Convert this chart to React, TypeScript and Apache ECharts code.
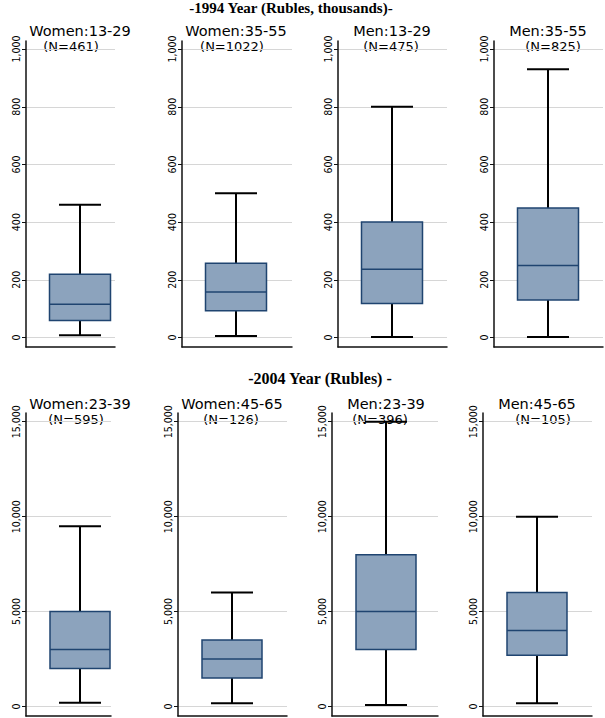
import React, { useEffect, useRef } from 'react';
import * as echarts from 'echarts';

// ---- data ----
const HEADINGS = ['-1994 Year (Rubles, thousands)-', '-2004 Year (Rubles) -'];

const TOP_GROUPS = ['Women:13-29', 'Women:35-55', 'Men:13-29', 'Men:35-55'];
const TOP_N = [461, 1022, 475, 825];
const TOP_LOW = [8, 5, 2, 2];
const TOP_Q1 = [59, 93, 118, 130];
const TOP_MEDIAN = [115, 158, 237, 250];
const TOP_Q3 = [219, 257, 400, 449];
const TOP_HIGH = [460, 500, 800, 930];
const TOP_TICKS = [0, 200, 400, 600, 800, 1000];

const BOTTOM_GROUPS = ['Women:23-39', 'Women:45-65', 'Men:23-39', 'Men:45-65'];
const BOTTOM_N = [595, 126, 396, 105];
const BOTTOM_LOW = [200, 170, 80, 170];
const BOTTOM_Q1 = [2000, 1500, 3000, 2700];
const BOTTOM_MEDIAN = [3000, 2500, 5000, 4000];
const BOTTOM_Q3 = [5000, 3500, 8000, 6000];
const BOTTOM_HIGH = [9500, 6000, 15000, 10000];
const BOTTOM_TICKS = [0, 5000, 10000, 15000];

// ---- layout & style ----
const ROWS = [
  {
    groups: TOP_GROUPS, n: TOP_N, low: TOP_LOW, q1: TOP_Q1, med: TOP_MEDIAN, q3: TOP_Q3, high: TOP_HIGH, ticks: TOP_TICKS,
    top: 41, height: 306, lefts: [26, 182, 338, 494], widths: [89, 110, 109, 109],
    min: -33, max: 1028, titleY: 30.5, nY: 46.5, nOffsets: [-9, -4, -1, 5],
    headingX: 291, headingY: 7.5, headingSize: 15, boxW: 61,
  },
  {
    groups: BOTTOM_GROUPS, n: BOTTOM_N, low: BOTTOM_LOW, q1: BOTTOM_Q1, med: BOTTOM_MEDIAN, q3: BOTTOM_Q3, high: BOTTOM_HIGH, ticks: BOTTOM_TICKS,
    top: 413, height: 303, lefts: [26, 178, 332, 483], widths: [85, 109, 106, 109],
    min: -500, max: 15460, titleY: 403.5, nY: 419, nOffsets: [-4, -1, -6, 6],
    headingX: 320, headingY: 378.5, headingSize: 16, boxW: 60,
  },
];
const BOX_OFFSET = 54;
const CAP_W = 42;
const BOX_FILL = '#8ca3bd';
const BOX_STROKE = '#1f4470';
const WHISKER = '#000000';
const AXIS_COLOR = '#111111';
const GRID_COLOR = '#d6d6d6';
const SANS = '"DejaVu Sans", "Liberation Sans", Arial, sans-serif';
const NARROW = '"Liberation Sans Narrow", "DejaVu Sans Condensed", "Liberation Sans", Arial, sans-serif';
const SERIF = '"Liberation Serif", "Times New Roman", serif';

function buildOption() {
  const grid: any[] = [];
  const xAxis: any[] = [];
  const yAxis: any[] = [];
  const series: any[] = [];
  const graphic: any[] = [];
  let idx = 0;
  ROWS.forEach((row, r) => {
    graphic.push({
      type: 'text',
      x: row.headingX,
      y: row.headingY,
      style: {
        text: HEADINGS[r],
        align: 'center',
        verticalAlign: 'middle',
        fontFamily: SERIF,
        fontWeight: 'bold',
        fontSize: row.headingSize,
        fill: '#000',
      },
    });
    row.groups.forEach((g, i) => {
      const boxW = row.boxW;
      grid.push({ left: row.lefts[i], top: row.top, width: row.widths[i], height: row.height, containLabel: false });
      xAxis.push({
        type: 'value', gridIndex: idx, min: 0, max: row.widths[i],
        axisLine: { show: true, onZero: false, lineStyle: { color: AXIS_COLOR, width: 1.5 } },
        axisTick: { show: false }, axisLabel: { show: false }, splitLine: { show: false },
      });
      yAxis.push({
        type: 'value', gridIndex: idx, min: row.min, max: row.max,
        axisLine: { show: true, onZero: false, lineStyle: { color: AXIS_COLOR, width: 1.5 } },
        axisTick: { show: true, length: 4, customValues: row.ticks, lineStyle: { color: AXIS_COLOR, width: 1 } },
        axisLabel: {
          customValues: row.ticks, rotate: 90, margin: 5, fontSize: 10.5, fontFamily: NARROW, color: '#000',
          formatter: (v: number) => Number(v).toLocaleString('en-US'),
        },
        splitLine: { show: true, lineStyle: { color: GRID_COLOR, width: 1 } },
      });
      series.push({
        type: 'custom',
        name: g,
        xAxisIndex: idx,
        yAxisIndex: idx,
        silent: true,
        clip: false,
        data: [[row.low[i], row.q1[i], row.med[i], row.q3[i], row.high[i]]],
        renderItem: (params: any, api: any) => {
          const pt = (v: number) => api.coord([BOX_OFFSET, v]);
          const cx = pt(0)[0];
          const yLow = pt(api.value(0))[1];
          const yQ1 = pt(api.value(1))[1];
          const yMed = pt(api.value(2))[1];
          const yQ3 = pt(api.value(3))[1];
          const yHigh = pt(api.value(4))[1];
          const wStyle = { stroke: WHISKER, lineWidth: 2 };
          return {
            type: 'group',
            children: [
              { type: 'line', shape: { x1: cx, y1: yHigh, x2: cx, y2: yQ3 }, style: wStyle },
              { type: 'line', shape: { x1: cx, y1: yQ1, x2: cx, y2: yLow }, style: wStyle },
              { type: 'line', shape: { x1: cx - CAP_W / 2, y1: yHigh, x2: cx + CAP_W / 2, y2: yHigh }, style: wStyle },
              { type: 'line', shape: { x1: cx - CAP_W / 2, y1: yLow, x2: cx + CAP_W / 2, y2: yLow }, style: wStyle },
              {
                type: 'rect',
                shape: { x: cx - boxW / 2, y: yQ3, width: boxW, height: yQ1 - yQ3 },
                style: { fill: BOX_FILL, stroke: BOX_STROKE, lineWidth: 1.5 },
              },
              { type: 'line', shape: { x1: cx - boxW / 2, y1: yMed, x2: cx + boxW / 2, y2: yMed }, style: { stroke: BOX_STROKE, lineWidth: 1.5 } },
            ],
          };
        },
      });
      const cx = row.lefts[i] + BOX_OFFSET;
      graphic.push({
        type: 'text', x: cx, y: row.titleY,
        style: { text: g, align: 'center', verticalAlign: 'middle', fontFamily: SANS, fontSize: 14.5, fill: '#000' },
      });
      graphic.push({
        type: 'text', x: cx + row.nOffsets[i], y: row.nY,
        style: { text: `(N=${row.n[i]})`, align: 'center', verticalAlign: 'middle', fontFamily: SANS, fontSize: 13, fill: '#000' },
      });
      idx++;
    });
  });
  return { animation: false, backgroundColor: '#ffffff', grid, xAxis, yAxis, series, graphic };
}

export default function App() {
  const ref = useRef<HTMLDivElement>(null);
  useEffect(() => {
    if (!ref.current) return;
    const chart = echarts.init(ref.current, null, { renderer: 'svg' });
    chart.setOption(buildOption() as any);
    return () => chart.dispose();
  }, []);
  return <div ref={ref} style={{ position: 'fixed', left: 0, top: 0, width: 605, height: 718, background: '#fff' }} />;
}
